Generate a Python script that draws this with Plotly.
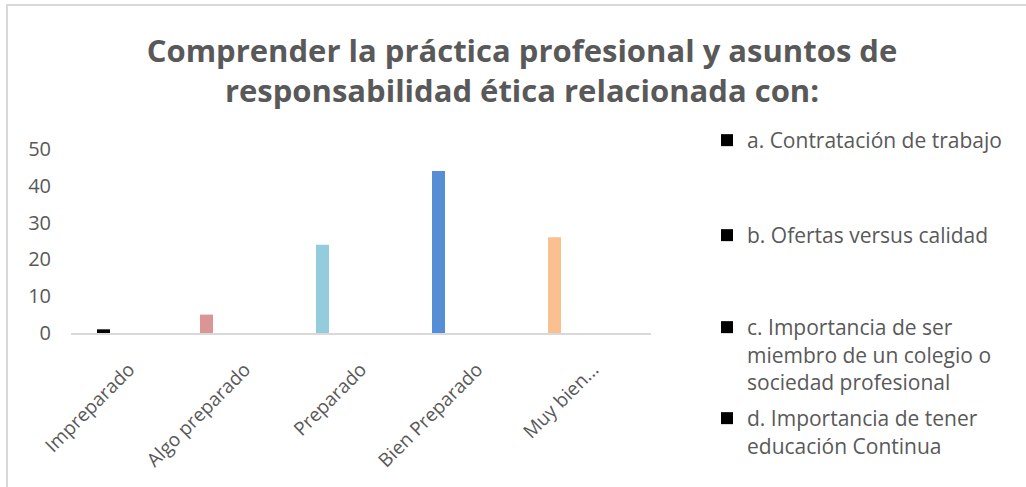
import plotly.graph_objects as go

categories = ["Impreparado", "Algo preparado", "Preparado", "Bien Preparado", "Muy bien..."]
series_names = [
    "a. Contratación de trabajo",
    "b. Ofertas versus calidad",
    "c. Importancia de ser<br>miembro de un colegio o<br>sociedad profesional",
    "d. Importancia de tener<br>educación Continua",
]
series_a = [0, 5, 24, 44, 26]
series_b = [1, 0, 0, 0, 0]
series_c = [0, 0, 0, 0, 0]
series_d = [0, 0, 0, 0, 0]
y_ticks = [0, 10, 20, 30, 40, 50]

W, H = 1026, 487
L, R, T, B = 71, 651, 149, 333
pw, ph = R - L, B - T

def px_x(x):
    return (x - L) / pw

def px_y(y):
    return (B - y) / ph

FONT = "Open Sans, Lato, sans-serif"
point_colors = ["#000000", "#DA9694", "#93CDDD", "#558ED5", "#FAC090"]
all_series = [series_a, series_b, series_c, series_d]
series_colors = [point_colors, "#000000", "#000000", "#000000"]

bw = 13 / 116
base_off = -45 / 116

fig = go.Figure()
legend_ys = [140, 235, 327, 418]
for i, (name, vals) in enumerate(zip(series_names, all_series)):
    lg = "legend" if i == 0 else f"legend{i+1}"
    fig.add_trace(go.Bar(
        x=categories, y=vals, name=name,
        marker=dict(color=series_colors[i], line=dict(width=0)),
        width=bw, offset=base_off + i * bw,
        legend=lg,
    ))

legend_common = dict(
    font=dict(family=FONT, size=21, color="#595959"),
    bgcolor="rgba(0,0,0,0)", xanchor="left", yanchor="top",
    itemwidth=30, tracegroupgap=0, valign="top",
)
layout_legends = {}
for i, ly in enumerate(legend_ys):
    key = "legend" if i == 0 else f"legend{i+1}"
    layout_legends[key] = dict(legend_common, x=px_x(707), y=px_y(ly - 20))

fig.update_layout(
    width=W, height=H,
    margin=dict(l=L, r=W - R, t=T, b=H - B),
    paper_bgcolor="white", plot_bgcolor="white",
    barmode="overlay",
    showlegend=True,
    title=dict(
        text="<b>Comprender la práctica profesional y asuntos de<br>responsabilidad ética relacionada con:</b>",
        x=522 / W, xref="container", xanchor="center",
        y=1 - 62 / H, yref="container", yanchor="top",
        font=dict(family=FONT, size=31, color="#595959"),
    ),
    xaxis=dict(
        type="category", categoryorder="array", categoryarray=categories,
        range=[-0.5, 4.5], showgrid=False, showline=True, linecolor="#D9D9D9", linewidth=2,
        ticks="", tickangle=-45, ticklabelstandoff=16,
        tickfont=dict(family=FONT, size=19, color="#595959"),
    ),
    yaxis=dict(
        range=[0, 50], tickvals=y_ticks, showgrid=False, zeroline=False, showline=False,
        ticks="", ticklabelstandoff=19,
        tickfont=dict(family=FONT, size=20, color="#595959"),
    ),
    **layout_legends,
)

fig.add_shape(type="rect", xref="paper", yref="paper",
              x0=px_x(7), x1=px_x(1040), y0=px_y(5), y1=px_y(500),
              line=dict(color="#D9D9D9", width=2), fillcolor="rgba(0,0,0,0)", layer="below")

fig.write_html("out.html", config={"displayModeBar": False},
               post_script="document.body.style.margin='0';")
